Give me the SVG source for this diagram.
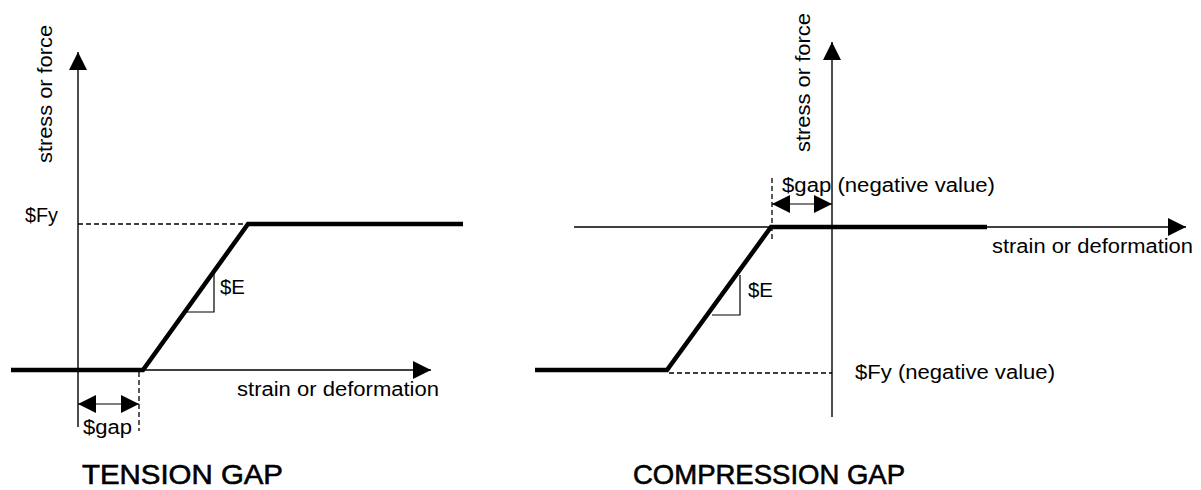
<svg xmlns="http://www.w3.org/2000/svg" width="1201" height="490" viewBox="0 0 1201 490">
  <style>
    .axis { stroke: #000; stroke-width: 1.4; fill: none; }
    .curve { stroke: #000; stroke-width: 4.5; fill: none; stroke-linejoin: miter; }
    .dash { stroke: #000; stroke-width: 1.3; fill: none; stroke-dasharray: 5 3; }
    .thin { stroke: #000; stroke-width: 1.2; fill: none; }
    .lbl { font-family: "Liberation Sans", Arial, sans-serif; font-size: 20px; fill: #000; }
    .title { font-family: "Liberation Sans", Arial, sans-serif; font-size: 28px; fill: #000; stroke: #000; stroke-width: 0.6; }
  </style>
  <defs>
    <marker id="head" markerUnits="userSpaceOnUse" markerWidth="18" markerHeight="18" refX="18" refY="9" orient="auto-start-reverse" viewBox="0 0 18 18">
      <path d="M0,0 L18,9 L0,18 Z" fill="#000"/>
    </marker>
  </defs>

  <!-- Tension gap panel -->
  <g id="tension-axes">
    <line class="axis" x1="78" y1="427" x2="78" y2="52" marker-end="url(#head)"/>
    <line class="axis" x1="11" y1="370" x2="431" y2="370" marker-end="url(#head)"/>
    <text class="lbl" transform="translate(52,163) rotate(-90)" textLength="138" lengthAdjust="spacingAndGlyphs">stress or force</text>
    <text class="lbl" x="237" y="396" textLength="202" lengthAdjust="spacingAndGlyphs">strain or deformation</text>
  </g>
  <g id="tension-curve">
    <polyline class="curve" points="11,370 143,370 248,224 463,224"/>
  </g>
  <g id="tension-fy">
    <line class="dash" x1="78" y1="224" x2="246" y2="224"/>
    <text class="lbl" x="25" y="222" textLength="33" lengthAdjust="spacingAndGlyphs">$Fy</text>
  </g>
  <g id="tension-e">
    <polyline class="thin" points="214,273 214,312 185,312"/>
    <text class="lbl" x="220" y="294" textLength="25" lengthAdjust="spacingAndGlyphs">$E</text>
  </g>
  <g id="tension-gap">
    <line class="dash" x1="139" y1="372" x2="139" y2="431"/>
    <text class="lbl" x="83" y="434" textLength="49" lengthAdjust="spacingAndGlyphs">$gap</text>
  </g>
  <text class="title" x="82" y="484" textLength="201" lengthAdjust="spacingAndGlyphs">TENSION GAP</text>

  <!-- Compression gap panel -->
  <g id="compression-axes">
    <line class="axis" x1="832" y1="417" x2="832" y2="42" marker-end="url(#head)"/>
    <line class="axis" x1="574" y1="227" x2="1186" y2="227" marker-end="url(#head)"/>
    <text class="lbl" transform="translate(810,152) rotate(-90)" textLength="139" lengthAdjust="spacingAndGlyphs">stress or force</text>
    <text class="lbl" x="992" y="253" textLength="201" lengthAdjust="spacingAndGlyphs">strain or deformation</text>
  </g>
  <g id="compression-curve">
    <polyline class="curve" points="535,370 667,370 771,227 987,227"/>
  </g>
  <g id="compression-fy">
    <line class="dash" x1="669" y1="373" x2="832" y2="373"/>
    <text class="lbl" x="855" y="379" textLength="200" lengthAdjust="spacingAndGlyphs">$Fy (negative value)</text>
  </g>
  <g id="compression-e">
    <polyline class="thin" points="740,275 740,315 712,315"/>
    <text class="lbl" x="748" y="297" textLength="25" lengthAdjust="spacingAndGlyphs">$E</text>
  </g>
  <g id="compression-gap">
    <line class="dash" x1="772" y1="178" x2="772" y2="240"/>
    <text class="lbl" x="782" y="192" textLength="213" lengthAdjust="spacingAndGlyphs">$gap (negative value)</text>
  </g>
  <text class="title" x="633" y="484" textLength="272" lengthAdjust="spacingAndGlyphs">COMPRESSION GAP</text>

  <!-- Gap dimension arrows -->
  <g id="connectors">
    <line class="thin" x1="78" y1="404" x2="139" y2="404" marker-start="url(#head)" marker-end="url(#head)"/>
    <line class="thin" x1="772" y1="204" x2="832" y2="204" marker-start="url(#head)" marker-end="url(#head)"/>
  </g>
</svg>
